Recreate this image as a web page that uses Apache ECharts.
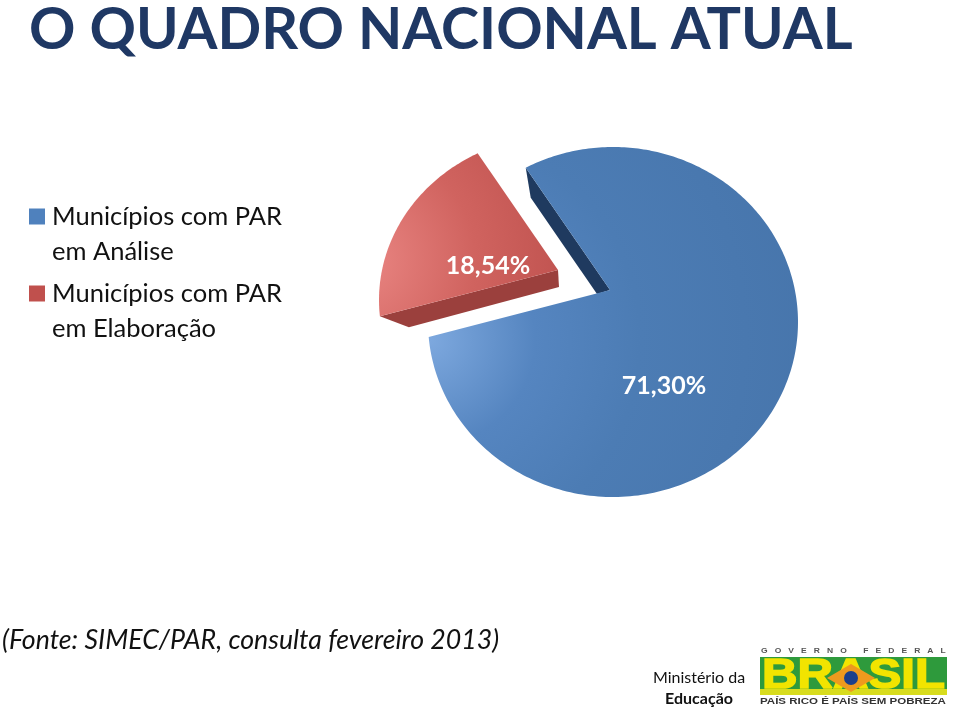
<!DOCTYPE html>
<html><head><meta charset="utf-8">
<style>html,body{margin:0;padding:0;background:#fff}#c{width:960px;height:714px}</style>
<script src="https://cdn.jsdelivr.net/npm/echarts@6/dist/echarts.min.js"></script>
</head><body><div id="c"></div>
<script>
const categories = ['Municípios com PAR\nem Análise', 'Municípios com PAR\nem Elaboração'];
const values = [71.30, 18.54];
const titleText = 'O QUADRO NACIONAL ATUAL';
const sourceText = '(Fonte: SIMEC/PAR, consulta fevereiro 2013)';

const FONT = 'Lato, "Open Sans", sans-serif';
const total = values[0] + values[1];
const START = -31.8, KY = 0.9;
const rad = d => d * Math.PI / 180;
const slices = [
  { apex:[610,290], c:[613,322], rx:185, ry:175, from:START, sign:1, label:[664,386],
    grad:[430,340,420,[[0,'#7DA8DE'],[0.25,'#5585C0'],[0.5,'#4C7CB4'],[1,'#4674AA']]],
    wall:'#1F3A5F', wallStartOff:[5,30], wallApexOff:[-13,4], useStart:true },
  { apex:[558,270], c:[561,300], rx:182, ry:165, from:START, sign:-1, label:[488,266],
    grad:[360,260,230,[[0,'#EA8683'],[0.5,'#D0635F'],[1,'#BC4F4C']]],
    wall:'#9B403D', wallStartOff:[29,11], wallApexOff:[1,17], useStart:false }
];
function hit(s, deg){
  const dx = Math.sin(rad(deg)), dy = -KY * Math.cos(rad(deg));
  const px = (s.apex[0]-s.c[0])/s.rx, py = (s.apex[1]-s.c[1])/s.ry;
  const qx = dx/s.rx, qy = dy/s.ry;
  const a = qx*qx+qy*qy, b = 2*(px*qx+py*qy), c = px*px+py*py-1;
  const t = (-b+Math.sqrt(b*b-4*a*c))/(2*a);
  return [s.apex[0]+t*dx, s.apex[1]+t*dy];
}
function renderSlice(i){
  return function(params, api){
    const s = slices[i];
    const v = api.value(0);
    const sweep = v/total*360;
    const a0 = s.from, a1 = s.from + s.sign*sweep;
    const pts = [s.apex];
    const n = Math.ceil(sweep);
    for(let k=0;k<=n;k++) pts.push(hit(s, a0+(a1-a0)*k/n));
    const edge = s.useStart ? pts[1] : pts[pts.length-1];
    const wall = [s.apex, edge,
      [edge[0]+s.wallStartOff[0], edge[1]+s.wallStartOff[1]],
      [s.apex[0]+s.wallApexOff[0], s.apex[1]+s.wallApexOff[1]]];
    const g = s.grad;
    return { type:'group', children:[
      { type:'polygon', shape:{points:wall}, style:{fill:s.wall} },
      { type:'polygon', shape:{points:pts}, style:{fill:new echarts.graphic.RadialGradient(g[0],g[1],g[2],g[3].map(x=>({offset:x[0],color:x[1]})),true)} },
      { type:'text', x:s.label[0], y:s.label[1], style:{text:v.toFixed(2).replace('.',',')+'%',fill:'#fff',font:'bold 25px '+FONT,align:'center',verticalAlign:'middle'} }
    ]};
  };
}
const logo = [
  {type:'text',x:761,y:651,scaleX:1.06,style:{text:'G   O   V   E   R   N   O       F   E   D   E   R   A   L',fill:'#555',font:'bold 8px "Liberation Sans", sans-serif',verticalAlign:'middle'}},
  {type:'rect',shape:{x:760,y:657,width:187,height:38},style:{fill:'#2E9A3C'}},
  {type:'rect',shape:{x:760,y:689,width:187,height:6},style:{fill:'#D8DC1E'}},
  {type:'text',x:762,y:676,scaleX:1.17,style:{text:'BRASIL',fill:'#F2E400',stroke:'#F2E400',lineWidth:1.5,font:'bold 42px "Liberation Sans", sans-serif',verticalAlign:'middle'}},
  {type:'polygon',shape:{points:[[851,664],[875,678],[851,692],[827,678]]},style:{fill:'#EE9A1E'}},
  {type:'circle',shape:{cx:851,cy:678,r:7},style:{fill:'#1B3F8B'}},
  {type:'text',x:760,y:702,scaleX:1.28,style:{text:'PAÍS RICO É PAÍS SEM POBREZA',fill:'#333',font:'bold 9px "Liberation Sans", sans-serif',verticalAlign:'middle'}},
  {type:'text',x:699,y:678,style:{text:'Ministério da',fill:'#111',font:'16px '+FONT,align:'center',verticalAlign:'middle'}},
  {type:'text',x:699,y:699,style:{text:'Educação',fill:'#111',font:'bold 16px '+FONT,align:'center',verticalAlign:'middle'}},
  {type:'text',x:2,y:640,style:{text:sourceText,fill:'#111',font:'italic 26.7px '+FONT,verticalAlign:'middle'}}
];
const chart = echarts.init(document.getElementById('c'), null, {renderer:'canvas'});
chart.setOption({
  animation:false,
  backgroundColor:'#fff',
  title:{text:titleText,left:29,top:1,padding:0,textStyle:{color:'#1F3864',fontFamily:FONT,fontWeight:'bold',fontSize:57.5}},
  legend:{orient:'vertical',left:29,top:164,padding:0,itemWidth:16,itemHeight:16,itemGap:-28,icon:'rect',selectedMode:false,
    formatter:n=>'\n'+n,
    textStyle:{fontFamily:FONT,fontSize:25.5,lineHeight:35,color:'#111',padding:[0,0,0,2]}},
  graphic:logo,
  series:[0,1].map(i=>({
    type:'custom',name:categories[i],coordinateSystem:'none',
    itemStyle:{color:['#4F81BD','#C0504D'][i]},
    renderItem:renderSlice(i),data:[[values[i]]]
  }))
});
</script></body></html>
